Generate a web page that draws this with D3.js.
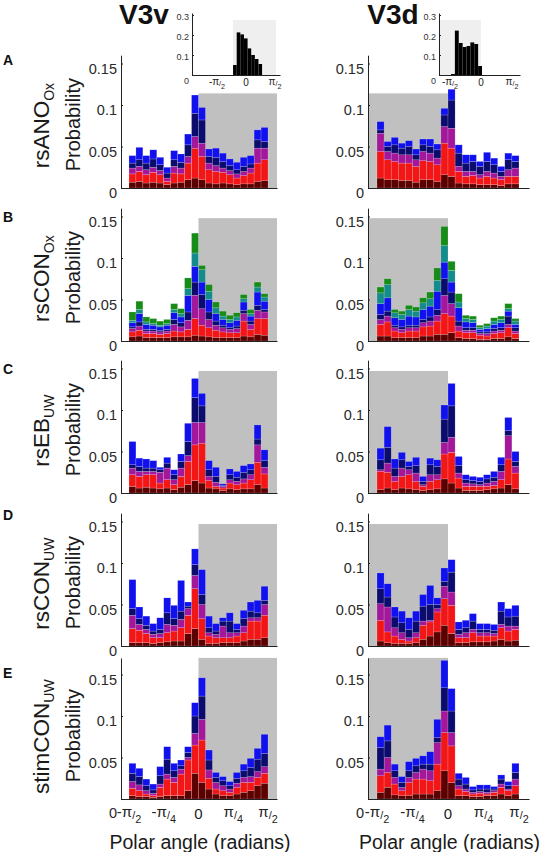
<!DOCTYPE html>
<html><head><meta charset="utf-8">
<script src="https://cdn.jsdelivr.net/npm/d3@7"></script>
<style>body{margin:0;background:#fff}svg{display:block;font-family:"Liberation Sans",Arial,Helvetica,sans-serif}</style>
</head><body><svg id="c" width="544" height="852"></svg>
<script>
// ---------- labels ----------
const columnTitles = ["V3v", "V3d"];
const rowLetters = ["A", "B", "C", "D", "E"];
const rowNames = [["rsANO", "Ox"], ["rsCON", "Ox"], ["rsEB", "UW"], ["rsCON", "UW"], ["stimCON", "UW"]];
const yTicks = [0, 0.05, 0.1, 0.15];
const xTickValues = [-Math.PI / 2, -Math.PI / 4, 0, Math.PI / 4, Math.PI / 2];
const xTickDen = [2, 4, 0, 4, 2];
const xTickNeg = [true, true, false, false, false];
const insetYTicks = [0, 0.1, 0.2, 0.3];
const insetXTicks = [-Math.PI / 2, 0, Math.PI / 2];
const insetXDen = [2, 0, 2];
const insetXNeg = [true, false, false];
const xAxisTitle = "Polar angle (radians)";
const yAxisTitle = "Probability";

// ---------- data: cumulative layer tops per bin (20 bins from -pi/2 to pi/2) ----------
// layers: maroon, red, magenta, navy, blue (row B also teal, green)
const A_V3v = [
  [0.007,0.008,0.006,0.007,0.006,0.004,0.006,0.007,0.010,0.012,0.010,0.006,0.005,0.006,0.005,0.004,0.005,0.005,0.008,0.009],
  [0.017,0.020,0.016,0.019,0.016,0.008,0.018,0.017,0.030,0.048,0.038,0.022,0.020,0.019,0.016,0.012,0.015,0.018,0.030,0.034],
  [0.024,0.026,0.022,0.025,0.021,0.012,0.026,0.024,0.038,0.062,0.054,0.030,0.027,0.024,0.021,0.017,0.020,0.024,0.048,0.048],
  [0.030,0.034,0.030,0.035,0.028,0.018,0.034,0.031,0.052,0.090,0.082,0.038,0.037,0.032,0.027,0.022,0.026,0.029,0.058,0.056],
  [0.039,0.049,0.039,0.046,0.037,0.025,0.045,0.041,0.065,0.112,0.097,0.047,0.048,0.042,0.035,0.031,0.037,0.039,0.070,0.073]];
const A_V3d = [
  [0.012,0.010,0.010,0.009,0.009,0.007,0.010,0.010,0.008,0.016,0.014,0.006,0.005,0.005,0.004,0.004,0.004,0.003,0.005,0.005],
  [0.044,0.034,0.032,0.030,0.030,0.026,0.033,0.032,0.028,0.054,0.048,0.020,0.014,0.015,0.012,0.014,0.012,0.010,0.014,0.014],
  [0.066,0.044,0.042,0.040,0.040,0.034,0.044,0.042,0.036,0.074,0.072,0.026,0.020,0.020,0.016,0.020,0.018,0.014,0.022,0.024],
  [0.070,0.050,0.052,0.048,0.050,0.040,0.052,0.050,0.046,0.088,0.106,0.042,0.030,0.032,0.026,0.032,0.028,0.020,0.034,0.032],
  [0.080,0.056,0.061,0.054,0.057,0.047,0.059,0.059,0.053,0.096,0.119,0.052,0.040,0.040,0.032,0.043,0.036,0.026,0.042,0.039]];
const B_V3v = [
  [0.005,0.006,0.004,0.004,0.004,0.004,0.005,0.005,0.005,0.007,0.006,0.005,0.004,0.004,0.004,0.004,0.006,0.005,0.008,0.007],
  [0.011,0.013,0.009,0.009,0.008,0.009,0.012,0.011,0.014,0.027,0.019,0.016,0.013,0.011,0.010,0.010,0.024,0.014,0.027,0.027],
  [0.015,0.018,0.012,0.012,0.011,0.012,0.020,0.017,0.025,0.055,0.039,0.026,0.019,0.016,0.014,0.015,0.033,0.020,0.037,0.035],
  [0.017,0.023,0.014,0.014,0.013,0.014,0.026,0.022,0.035,0.071,0.056,0.035,0.024,0.019,0.016,0.018,0.037,0.024,0.043,0.038],
  [0.022,0.033,0.020,0.019,0.017,0.019,0.034,0.029,0.055,0.090,0.071,0.050,0.033,0.026,0.022,0.025,0.047,0.030,0.059,0.048],
  [0.025,0.038,0.023,0.021,0.019,0.021,0.038,0.033,0.063,0.106,0.086,0.060,0.040,0.030,0.026,0.029,0.051,0.033,0.065,0.053],
  [0.035,0.048,0.029,0.027,0.024,0.026,0.045,0.039,0.076,0.130,0.091,0.068,0.047,0.036,0.031,0.034,0.056,0.038,0.071,0.057]];
const B_V3d = [
  [0.006,0.006,0.004,0.004,0.004,0.004,0.006,0.006,0.008,0.008,0.010,0.004,0.003,0.003,0.002,0.002,0.003,0.003,0.005,0.003],
  [0.020,0.023,0.012,0.010,0.012,0.012,0.017,0.018,0.024,0.033,0.030,0.012,0.010,0.010,0.007,0.006,0.009,0.010,0.016,0.009],
  [0.026,0.030,0.016,0.014,0.016,0.016,0.022,0.024,0.031,0.055,0.045,0.018,0.013,0.013,0.009,0.009,0.012,0.013,0.020,0.012],
  [0.032,0.036,0.019,0.017,0.019,0.019,0.026,0.029,0.038,0.075,0.059,0.024,0.016,0.016,0.011,0.011,0.015,0.016,0.030,0.016],
  [0.045,0.052,0.028,0.026,0.030,0.029,0.038,0.042,0.060,0.095,0.071,0.040,0.023,0.022,0.014,0.015,0.020,0.022,0.036,0.020],
  [0.058,0.068,0.034,0.032,0.038,0.036,0.046,0.051,0.073,0.115,0.085,0.047,0.027,0.026,0.016,0.018,0.024,0.026,0.039,0.024],
  [0.065,0.075,0.038,0.036,0.043,0.041,0.052,0.059,0.088,0.138,0.096,0.057,0.031,0.030,0.019,0.021,0.028,0.030,0.045,0.027]];
const C_V3v = [
  [0.008,0.006,0.007,0.006,0.005,0.006,0.004,0.007,0.010,0.015,0.012,0.006,0.005,0.003,0.005,0.004,0.005,0.005,0.010,0.006],
  [0.022,0.020,0.022,0.022,0.012,0.016,0.010,0.020,0.038,0.058,0.060,0.015,0.008,0.006,0.012,0.010,0.012,0.016,0.037,0.023],
  [0.030,0.026,0.026,0.026,0.025,0.030,0.016,0.030,0.045,0.085,0.085,0.020,0.013,0.008,0.016,0.014,0.017,0.022,0.058,0.031],
  [0.034,0.032,0.030,0.030,0.028,0.036,0.022,0.038,0.062,0.115,0.105,0.028,0.020,0.009,0.022,0.019,0.025,0.028,0.065,0.039],
  [0.062,0.042,0.041,0.039,0.031,0.043,0.028,0.047,0.084,0.138,0.120,0.039,0.031,0.011,0.029,0.026,0.033,0.035,0.082,0.052]];
const C_V3d = [
  [0.004,0.006,0.004,0.006,0.005,0.004,0.003,0.004,0.005,0.017,0.012,0.006,0.003,0.003,0.003,0.004,0.005,0.006,0.010,0.005],
  [0.026,0.025,0.014,0.020,0.022,0.014,0.008,0.014,0.016,0.047,0.049,0.018,0.008,0.008,0.008,0.008,0.009,0.016,0.041,0.024],
  [0.028,0.036,0.020,0.030,0.028,0.024,0.010,0.022,0.022,0.061,0.067,0.024,0.012,0.011,0.010,0.012,0.014,0.026,0.069,0.032],
  [0.040,0.055,0.030,0.040,0.032,0.033,0.014,0.034,0.032,0.089,0.105,0.033,0.016,0.015,0.014,0.017,0.019,0.034,0.075,0.038],
  [0.054,0.080,0.041,0.049,0.038,0.043,0.020,0.042,0.040,0.106,0.132,0.044,0.022,0.020,0.019,0.022,0.026,0.043,0.091,0.050]];
const D_V3v = [
  [0.004,0.004,0.004,0.003,0.004,0.005,0.006,0.006,0.015,0.021,0.008,0.003,0.003,0.004,0.004,0.004,0.006,0.008,0.008,0.010],
  [0.021,0.019,0.015,0.010,0.010,0.016,0.018,0.022,0.037,0.069,0.033,0.012,0.010,0.010,0.010,0.012,0.016,0.030,0.030,0.037],
  [0.037,0.026,0.020,0.014,0.015,0.026,0.025,0.032,0.045,0.085,0.050,0.016,0.014,0.024,0.016,0.016,0.024,0.034,0.034,0.050],
  [0.045,0.033,0.025,0.018,0.020,0.040,0.033,0.042,0.048,0.098,0.062,0.022,0.018,0.030,0.030,0.020,0.033,0.042,0.040,0.055],
  [0.080,0.047,0.036,0.027,0.034,0.058,0.049,0.079,0.053,0.117,0.092,0.036,0.027,0.034,0.040,0.027,0.043,0.053,0.055,0.072]];
const D_V3d = [
  [0.006,0.004,0.003,0.003,0.003,0.004,0.008,0.012,0.017,0.025,0.015,0.004,0.004,0.005,0.005,0.005,0.006,0.008,0.006,0.007],
  [0.031,0.017,0.012,0.008,0.006,0.010,0.025,0.029,0.041,0.057,0.049,0.010,0.010,0.016,0.012,0.012,0.012,0.022,0.018,0.020],
  [0.051,0.047,0.022,0.016,0.010,0.016,0.030,0.031,0.045,0.072,0.065,0.014,0.016,0.020,0.016,0.016,0.015,0.026,0.024,0.024],
  [0.069,0.059,0.035,0.028,0.020,0.030,0.048,0.050,0.050,0.078,0.089,0.020,0.022,0.030,0.020,0.020,0.019,0.042,0.035,0.036],
  [0.088,0.075,0.047,0.042,0.034,0.042,0.062,0.073,0.058,0.094,0.104,0.029,0.031,0.039,0.027,0.027,0.026,0.053,0.045,0.049]];
const E_V3v = [
  [0.004,0.003,0.003,0.002,0.003,0.004,0.004,0.004,0.010,0.031,0.020,0.012,0.006,0.004,0.004,0.006,0.008,0.010,0.016,0.019],
  [0.013,0.010,0.006,0.004,0.014,0.024,0.020,0.030,0.047,0.065,0.071,0.025,0.012,0.010,0.008,0.014,0.020,0.020,0.026,0.031],
  [0.021,0.017,0.010,0.007,0.018,0.030,0.026,0.036,0.050,0.079,0.096,0.035,0.020,0.016,0.012,0.019,0.026,0.027,0.033,0.039],
  [0.031,0.027,0.016,0.011,0.028,0.048,0.034,0.040,0.056,0.100,0.124,0.047,0.026,0.022,0.016,0.025,0.034,0.038,0.048,0.055],
  [0.043,0.037,0.024,0.018,0.039,0.063,0.043,0.047,0.063,0.116,0.146,0.059,0.032,0.027,0.021,0.032,0.042,0.049,0.061,0.078]];
const E_V3d = [
  [0.008,0.014,0.005,0.004,0.004,0.006,0.006,0.006,0.010,0.034,0.020,0.004,0.004,0.003,0.003,0.004,0.004,0.006,0.004,0.006],
  [0.028,0.032,0.018,0.010,0.020,0.024,0.024,0.022,0.042,0.080,0.064,0.012,0.009,0.006,0.007,0.006,0.008,0.014,0.010,0.016],
  [0.036,0.050,0.026,0.014,0.026,0.032,0.036,0.034,0.068,0.106,0.080,0.016,0.012,0.008,0.009,0.008,0.010,0.018,0.012,0.024],
  [0.062,0.070,0.034,0.020,0.034,0.040,0.042,0.042,0.074,0.134,0.106,0.024,0.018,0.011,0.012,0.012,0.012,0.024,0.016,0.032],
  [0.075,0.089,0.042,0.027,0.045,0.049,0.052,0.057,0.096,0.167,0.133,0.031,0.026,0.015,0.017,0.017,0.015,0.029,0.021,0.043]];
const panelData = [[A_V3v, A_V3d], [B_V3v, B_V3d], [C_V3v, C_V3d], [D_V3v, D_V3d], [E_V3v, E_V3d]];
const shadeTop = [0.114, 0.148, 0.147, 0.147, 0.17];
const yMax = [0.16, 0.16, 0.16, 0.16, 0.17];
const layerColors5 = ["#5c0000", "#f31616", "#a3189b", "#0c0c6e", "#1111ee"];
const layerColors7 = ["#5c0000", "#f31616", "#a3189b", "#0c0c6e", "#1111ee", "#158c8c", "#188c18"];

// insets: mean polar angle histograms
const insetV3v = [0.05, 0.213, 0.203, 0.183, 0.133, 0.100, 0.080, 0.055];
const insetV3d = [0.005, 0.222, 0.160, 0.140, 0.145, 0.163, 0.155, 0.045];
const insetStart = [-0.70, -1.52];
const insetBinWidth = Math.PI / 16;

// ---------- layout ----------
const svg = d3.select("#c");
const FONT = "'Liberation Sans', Arial, sans-serif";
const baselines = [188, 341, 493, 646, 799];
const pxPerUnit = 830;
const colX = [
  {dom: [-1.751, 1.774], rng: [121, 277]},
  {dom: [-1.770, 1.792], rng: [368, 529]}
];
const binEdges = d3.range(21).map(i => -Math.PI / 2 + i * Math.PI / 20);

function piLabel(g, x, y, neg, den, fs) {
  const t = g.append("text").attr("x", x).attr("y", y).attr("text-anchor", "middle")
    .attr("font-size", fs).attr("fill", "#222");
  if (den === 0) { t.text("0"); return; }
  t.append("tspan").text((neg ? "-" : "") + "π").attr("dy", -fs * 0.15);
  t.append("tspan").text("/").attr("font-size", fs * 0.72).attr("dy", fs * 0.15);
  t.append("tspan").text(den).attr("font-size", fs * 0.72).attr("dy", fs * 0.25);
}

panelData.forEach((row, ri) => {
  row.forEach((layers, ci) => {
    const base = baselines[ri];
    const x = d3.scaleLinear().domain(colX[ci].dom).range(colX[ci].rng);
    const y = d3.scaleLinear().domain([0, yMax[ri]]).range([base, base - yMax[ri] * pxPerUnit]);
    const g = svg.append("g");
    const sx0 = ci === 0 ? x(0) : x.range()[0];
    const sx1 = ci === 0 ? x.range()[1] : x(0);
    g.append("rect").attr("x", sx0).attr("y", y(shadeTop[ri])).attr("width", sx1 - sx0)
      .attr("height", y(0) - y(shadeTop[ri])).attr("fill", "#c0c0c0");
    const colors = layers.length === 7 ? layerColors7 : layerColors5;
    layers.forEach((tops, li) => {
      g.selectAll(null).data(tops).enter().append("rect")
        .attr("x", (d, i) => x(binEdges[i]))
        .attr("width", (d, i) => x(binEdges[i + 1]) - x(binEdges[i]))
        .attr("y", d => y(d))
        .attr("height", (d, i) => y(li === 0 ? 0 : layers[li - 1][i]) - y(d))
        .attr("fill", colors[li])
        .attr("stroke", "rgba(255,255,255,0.35)").attr("stroke-width", 0.5);
    });
    const ya = d3.axisLeft(y).tickValues(yTicks).tickSize(-2).tickSizeOuter(0).tickPadding(4)
      .tickFormat(d => String(d));
    const yg = g.append("g").attr("transform", `translate(${x.range()[0]},0)`).call(ya);
    yg.select(".domain").attr("stroke", "#222").attr("stroke-width", 1);
    yg.selectAll(".tick line").attr("stroke", "#222");
    yg.selectAll("text").attr("font-size", 14.5).attr("font-family", FONT).attr("fill", "#2a2a2a")
      .attr("dy", d => (ri === 4 && d === 0) ? "1.3em" : "0.68em");
    const xa = d3.axisBottom(x).tickValues([]).tickSizeOuter(0);
    const xg = g.append("g").attr("transform", `translate(0,${base})`).call(xa);
    xg.select(".domain").attr("stroke", "#222").attr("stroke-width", 1);
    if (ri === 4) {
      xTickValues.forEach((v, k) => piLabel(g, x(v), base + 20, xTickNeg[k], xTickDen[k], 15));
      g.append("text").attr("x", (x.range()[0] + x.range()[1]) / 2 + 1).attr("y", 849)
        .attr("text-anchor", "middle").attr("font-size", 19.5).attr("fill", "#1a1a1a").text(xAxisTitle);
    }
    if (ci === 0) {
      const cy = (y(0) + y(0.16)) / 2 + 3;
      g.append("text").attr("transform", `translate(80,${cy}) rotate(-90)`).attr("text-anchor", "middle")
        .attr("font-size", 20).attr("fill", "#1a1a1a").text(yAxisTitle);
      const t = g.append("text").attr("transform", `translate(49,${cy + 1}) rotate(-90)`).attr("text-anchor", "middle")
        .attr("font-size", 22.5).attr("fill", "#1a1a1a");
      t.append("tspan").text(rowNames[ri][0]);
      t.append("tspan").text(rowNames[ri][1]).attr("font-size", 14).attr("dy", 5);
      g.append("text").attr("x", 3).attr("y", [65, 222, 374, 520, 678][ri]).attr("font-size", 14)
        .attr("font-weight", "bold").attr("fill", "#111").text(rowLetters[ri]);
    }
  });
});

[144, 393].forEach((cx, i) => {
  svg.append("text").attr("x", cx).attr("y", 24).attr("text-anchor", "middle").attr("font-size", 28)
    .attr("font-weight", "bold").attr("fill", "#111").text(columnTitles[i]);
});

const insetLayout = [
  {ax: 192, axEnd: 280, zero: 246, half: 29, shade: [233, 276]},
  {ax: 439, axEnd: 520, zero: 481, half: 31, shade: [439, 481]}
];
[insetV3v, insetV3d].forEach((vals, k) => {
  const L = insetLayout[k];
  const per = L.half / (Math.PI / 2);
  const x = d3.scaleLinear().domain([(L.ax - L.zero) / per, (L.axEnd - L.zero) / per]).range([L.ax, L.axEnd]);
  const y = d3.scaleLinear().domain([0, 0.31]).range([75, 13]);
  const g = svg.append("g");
  g.append("rect").attr("x", L.shade[0]).attr("y", 20).attr("width", L.shade[1] - L.shade[0])
    .attr("height", 55).attr("fill", "#efefef");
  g.selectAll(null).data(vals).enter().append("rect")
    .attr("x", (d, i) => x(insetStart[k] + i * insetBinWidth))
    .attr("width", (d, i) => x(insetStart[k] + (i + 1) * insetBinWidth) - x(insetStart[k] + i * insetBinWidth))
    .attr("y", d => y(d)).attr("height", d => y(0) - y(d)).attr("fill", "#000");
  const ya = d3.axisLeft(y).tickValues(insetYTicks).tickSize(-2).tickSizeOuter(0).tickPadding(3)
    .tickFormat(d => String(d));
  const yg = g.append("g").attr("transform", `translate(${L.ax},0)`).call(ya);
  yg.select(".domain").attr("stroke", "#222");
  yg.selectAll(".tick line").attr("stroke", "#222");
  yg.selectAll("text").attr("font-size", 9).attr("font-family", FONT).attr("fill", "#333")
    .attr("dy", d => d === 0 ? "0.9em" : "0.5em");
  const xg = g.append("g").attr("transform", "translate(0,75)").call(d3.axisBottom(x).tickValues([]).tickSizeOuter(0));
  xg.select(".domain").attr("stroke", "#222");
  insetXTicks.forEach((v, j) => piLabel(g, x(v), 86, insetXNeg[j], insetXDen[j], 10));
});
</script></body></html>
